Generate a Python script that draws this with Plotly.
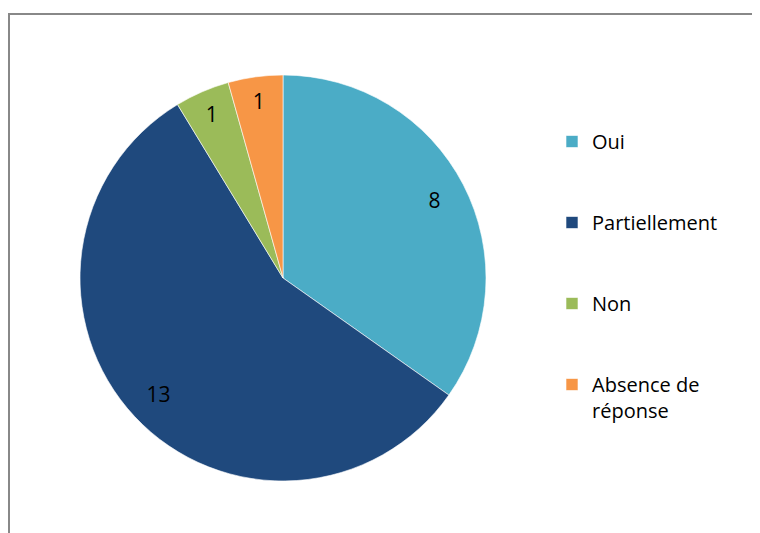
import plotly.graph_objects as go

# Réponses à la question
categories = ["Oui", "Partiellement", "Non", "Absence de<br>réponse"]
values = [8, 13, 1, 1]
colors = ["#4BACC6", "#1F497D", "#9BBB59", "#F79646"]

# extra blank lines spread the legend entries apart like the original
legend_labels = [c if "<br>" in c else c + "<br> <br> " for c in categories]

# the page body adds an 8px margin, so everything is placed 8px up/left
pie_domain = dict(x=[72 / 760, 478 / 760], y=[60 / 533, 466 / 533])

fig = go.Figure()

# coloured slices + legend
fig.add_trace(go.Pie(
    labels=legend_labels,
    values=values,
    marker=dict(colors=colors, line=dict(color="white", width=0.6)),
    sort=False,
    direction="clockwise",
    rotation=0,
    textinfo="none",
    hovertext=[c.replace("<br>", " ") for c in categories],
    hoverinfo="text+value",
    domain=pie_domain,
))

# transparent ring on top, only to put the value labels near the outer edge
fig.add_trace(go.Pie(
    labels=legend_labels,
    values=values,
    hole=0.68,
    marker=dict(colors=["rgba(0,0,0,0)"] * len(values),
                line=dict(width=0)),
    sort=False,
    direction="clockwise",
    rotation=0,
    textinfo="value",
    textposition="inside",
    insidetextorientation="horizontal",
    textfont=dict(color="black", size=21),
    hoverinfo="skip",
    showlegend=False,
    domain=pie_domain,
))

fig.update_layout(
    width=760,
    height=533,
    margin=dict(l=0, r=0, t=0, b=0),
    paper_bgcolor="white",
    font=dict(family="Open Sans, sans-serif", size=20, color="black"),
    showlegend=True,
    legend=dict(
        x=544 / 760,
        xanchor="left",
        y=1 - 114 / 533,
        yanchor="top",
        valign="top",
        font=dict(size=20),
        bgcolor="rgba(0,0,0,0)",
    ),
    shapes=[
        dict(
            type="rect",
            xref="paper",
            yref="paper",
            x0=1 / 760,
            x1=1.05,
            y0=-0.05,
            y1=1 - 6 / 533,
            line=dict(color="#888888", width=2),
            layer="below",
        )
    ],
)

fig.write_html("out.html")
